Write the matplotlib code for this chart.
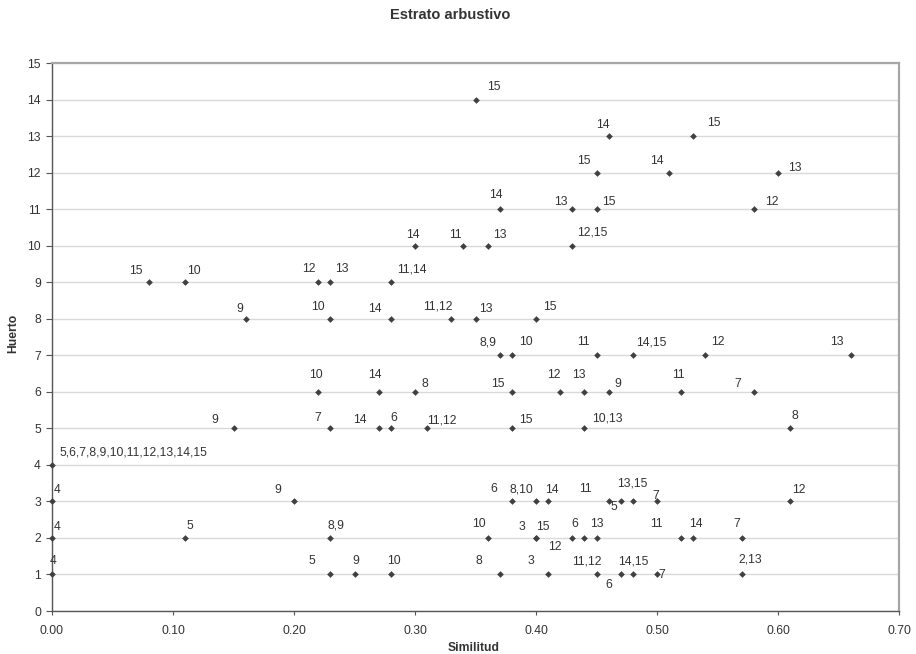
import matplotlib
matplotlib.use("Agg")
import matplotlib.pyplot as plt

plt.rcParams['font.family'] = ['Liberation Sans', 'DejaVu Sans']

# Data: (Similitud, Huerto, label)
similitud = [
    0.35,
    0.46, 0.53,
    0.45, 0.51, 0.60,
    0.37, 0.43, 0.45, 0.58,
    0.30, 0.34, 0.36, 0.43,
    0.08, 0.11, 0.22, 0.23, 0.28,
    0.16, 0.23, 0.28, 0.33, 0.35, 0.40,
    0.37, 0.38, 0.45, 0.48, 0.54, 0.66,
    0.22, 0.27, 0.30, 0.38, 0.42, 0.44, 0.46, 0.52, 0.58,
    0.15, 0.23, 0.27, 0.28, 0.31, 0.38, 0.44, 0.61,
    0.00,
    0.00, 0.20, 0.38, 0.40, 0.41, 0.46, 0.47, 0.48, 0.50, 0.61,
    0.00, 0.11, 0.23, 0.36, 0.40, 0.40, 0.43, 0.44, 0.45, 0.52, 0.53, 0.57,
    0.00, 0.23, 0.25, 0.28, 0.37, 0.41, 0.45, 0.47, 0.48, 0.50, 0.57,
]
huerto = [
    14,
    13, 13,
    12, 12, 12,
    11, 11, 11, 11,
    10, 10, 10, 10,
    9, 9, 9, 9, 9,
    8, 8, 8, 8, 8, 8,
    7, 7, 7, 7, 7, 7,
    6, 6, 6, 6, 6, 6, 6, 6, 6,
    5, 5, 5, 5, 5, 5, 5, 5,
    4,
    3, 3, 3, 3, 3, 3, 3, 3, 3, 3,
    2, 2, 2, 2, 2, 2, 2, 2, 2, 2, 2, 2,
    1, 1, 1, 1, 1, 1, 1, 1, 1, 1, 1,
]
labels = [
    "15",
    "14", "15",
    "15", "14", "13",
    "14", "13", "15", "12",
    "14", "11", "13", "12,15",
    "15", "10", "12", "13", "11,14",
    "9", "10", "14", "11,12", "13", "15",
    "8,9", "10", "11", "14,15", "12", "13",
    "10", "14", "8", "15", "12", "13", "9", "11", "7",
    "9", "7", "14", "6", "11,12", "15", "10,13", "8",
    "5,6,7,8,9,10,11,12,13,14,15",
    "4", "9", "6", "8,10", "14", "11", "5", "13,15", "7", "12",
    "4", "5", "8,9", "10", "3", "15", "6", "12", "13", "11", "14", "7",
    "4", "5", "9", "10", "8", "3", "11,12", "6", "14,15", "7", "2,13",
]

# Label placement offsets in pixels (dx right, dy up) — styling only
label_offsets = [
    (18, 13),
    (-6, 11), (21, 13),
    (-13, 12), (-12, 12), (17, 5),
    (-4, 14), (-11, 7), (12, 7), (18, 7),
    (-2, 11), (-8, 11), (12, 11), (20, 13),
    (-13, 11), (9, 11), (-9, 13), (12, 13), (21, 13),
    (-6, 10), (-12, 12), (-16, 10), (-13, 12), (10, 10), (14, 12),
    (-12, 13), (14, 13), (-13, 13), (18, 13), (12, 13), (-14, 13),
    (-2, 17), (-4, 17), (10, 8), (-14, 8), (-6, 17), (-6, 17), (9, 8), (-3, 17), (-16, 8),
    (-19, 8), (-13, 10), (-19, 8), (3, 10), (15, 8), (14, 8), (23, 10), (5, 12),
    (81, 12),
    (5, 11), (-16, 11), (-18, 12), (-15, 12), (4, 11), (-23, 12), (-7, -6), (-1, 18), (-1, 5), (9, 11),
    (5, 11), (5, 12), (6, 12), (-9, 14), (-14, 11), (7, 11), (2, 14), (-30, -9), (0, 14), (-25, 14), (3, 14), (-5, 14),
    (1, 13), (-18, 13), (1, 13), (3, 13), (-21, 13), (-17, 13), (-10, 13), (-12, -11), (0, 13), (5, -1), (9, 15),
]

x_ticks = [0.00, 0.10, 0.20, 0.30, 0.40, 0.50, 0.60, 0.70]
y_ticks = list(range(0, 16))

W, H = 916, 654
fig = plt.figure(figsize=(W / 100, H / 100), dpi=100)
ax = fig.add_axes([52 / W, 1 - 611 / H, (899 - 52) / W, (611 - 63) / H])

txt_color = '#333333'
ax.set_xlim(0, 0.70)
ax.set_ylim(0, 15)
ax.set_xticks(x_ticks)
ax.set_xticklabels([f"{v:.2f}" for v in x_ticks])
ax.set_yticks(y_ticks)
ax.tick_params(axis='both', labelsize=8.7, colors='#555555', labelcolor=txt_color)
ax.tick_params(axis='x', length=3, pad=7)
ax.tick_params(axis='y', length=4, pad=4)

ax.grid(axis='y', color='#d9d9d9', linewidth=1.0)
ax.set_axisbelow(True)
for side in ['left', 'bottom']:
    ax.spines[side].set_color('#555555')
    ax.spines[side].set_linewidth(1.0)
for side in ['top', 'right']:
    ax.spines[side].set_color('#a6a6a6')
    ax.spines[side].set_linewidth(1.6)

ax.plot(similitud, huerto, linestyle='none', marker='D', markersize=3.4,
        color='#404040', markeredgewidth=0, clip_on=False, zorder=3)

for xv, yv, lab, (dx, dy) in zip(similitud, huerto, labels, label_offsets):
    ax.annotate(lab, (xv, yv), xytext=(dx, dy), textcoords='offset pixels',
                ha='center', va='center', fontsize=8.7, color=txt_color, zorder=4)

fig.text(450 / W, 1 - 15 / H, "Estrato arbustivo", ha='center', va='center',
         fontsize=10.5, fontweight='bold', color=txt_color)
fig.text(474 / W, 1 - 648 / H, "Similitud", ha='center', va='center',
         fontsize=8.7, fontweight='bold', color=txt_color)
fig.text(13 / W, 1 - 333 / H, "Huerto", ha='center', va='center', rotation=90,
         fontsize=8.7, fontweight='bold', color=txt_color)

fig.savefig("out.png", dpi=100)
